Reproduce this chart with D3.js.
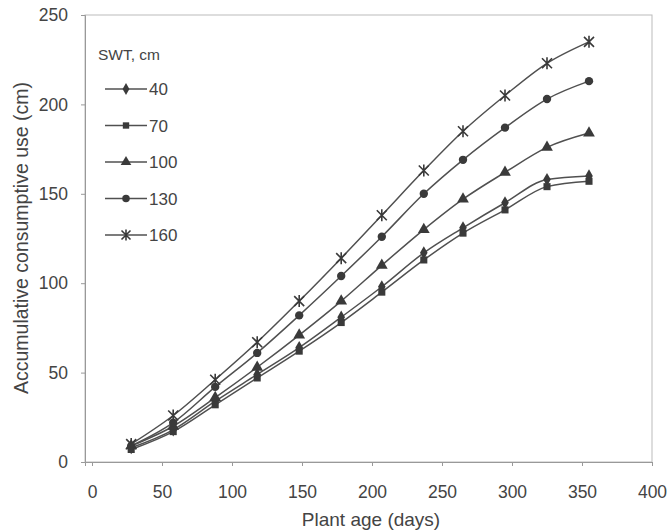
<!DOCTYPE html>
<html>
<head>
<meta charset="utf-8">
<script src="https://cdn.jsdelivr.net/npm/d3@7"></script>
<style>
  body { margin: 0; background: #fff; }
  text { font-family: "Liberation Sans", Arial, sans-serif; fill: #444; }
</style>
</head>
<body>
<div id="chart"></div>
<script>
// Plant age (days) at each measurement
const days = [28, 58, 88, 118, 148, 178, 207, 237, 265, 295, 325, 355];

// Accumulative consumptive use (cm) for each SWT
const swt40  = [8, 18, 34, 49, 64, 81, 98, 117, 131, 145, 158, 160];
const swt70  = [7, 17, 32, 47, 62, 78, 95, 113, 128, 141, 154, 157];
const swt100 = [9, 20, 36, 53, 71, 90, 110, 130, 147, 162, 176, 184];
const swt130 = [9, 22, 42, 61, 82, 104, 126, 150, 169, 187, 203, 213];
const swt160 = [10, 26, 46, 67, 90, 114, 138, 163, 185, 205, 223, 235];

const seriesNames = ["40", "70", "100", "130", "160"];
const seriesValues = [swt40, swt70, swt100, swt130, swt160];
const markers = ["diamond", "square", "triangle", "circle", "star"];

const xTicks = [0, 50, 100, 150, 200, 250, 300, 350, 400];
const yTicks = [0, 50, 100, 150, 200, 250];

const width = 672, height = 532;
const plotLeft = 85, plotRight = 652, plotTop = 15, plotBottom = 462;

const svg = d3.select("#chart").append("svg")
    .attr("width", width)
    .attr("height", height);

const x = d3.scaleLinear().domain([-5, 400]).range([plotLeft, plotRight]);
const y = d3.scaleLinear().domain([0, 250]).range([plotBottom, plotTop]);

// plot frame (top and right edges light)
svg.append("rect")
    .attr("x", plotLeft).attr("y", plotTop)
    .attr("width", plotRight - plotLeft).attr("height", plotBottom - plotTop)
    .attr("fill", "none")
    .attr("stroke", "#bbb")
    .attr("stroke-width", 1);

// axes
const xAxis = svg.append("g")
    .attr("transform", `translate(0,${plotBottom})`)
    .call(d3.axisBottom(x).tickValues(xTicks).tickSize(4).tickPadding(20));
const yAxis = svg.append("g")
    .attr("transform", `translate(${plotLeft},0)`)
    .call(d3.axisLeft(y).tickValues(yTicks).tickSize(4).tickPadding(13));

[xAxis, yAxis].forEach(g => {
    g.select(".domain").attr("stroke", "#999");
    g.selectAll(".tick line").attr("stroke", "#999");
    g.selectAll(".tick text")
        .attr("fill", "#444")
        .style("font-size", "17.5px");
});

// axis titles
svg.append("text")
    .attr("x", 371).attr("y", 526)
    .attr("text-anchor", "middle")
    .style("font-size", "19px")
    .text("Plant age (days)");

svg.append("text")
    .attr("transform", "translate(28,238) rotate(-90)")
    .attr("text-anchor", "middle")
    .style("font-size", "19.5px")
    .text("Accumulative consumptive use (cm)");

const lineColor = "#505050";
const markColor = "#3a3a3a";

function drawMarker(g, type, cx, cy, scale = 1) {
    if (type === "star") {
        const s = 5 * scale;
        g.append("path")
            .attr("d", `M${cx - s},${cy - s}L${cx + s},${cy + s}M${cx - s},${cy + s}L${cx + s},${cy - s}M${cx},${cy - s - 1}L${cx},${cy + s + 1}`)
            .attr("stroke", markColor)
            .attr("stroke-width", 1.6)
            .attr("fill", "none");
        return;
    }
    const symType = {
        diamond: d3.symbolDiamond,
        square: d3.symbolSquare,
        triangle: d3.symbolTriangle,
        circle: d3.symbolCircle
    }[type];
    const size = { diamond: 50, square: 50, triangle: 60, circle: 55 }[type] * scale * scale;
    g.append("path")
        .attr("d", d3.symbol().type(symType).size(size)())
        .attr("transform", `translate(${cx},${cy})`)
        .attr("fill", markColor);
}

const line = d3.line()
    .x((d, i) => x(days[i]))
    .y(d => y(d))
    .curve(d3.curveMonotoneX);

seriesValues.forEach((vals, si) => {
    const g = svg.append("g");
    g.append("path")
        .datum(vals)
        .attr("d", line)
        .attr("fill", "none")
        .attr("stroke", lineColor)
        .attr("stroke-width", 1.5);
    vals.forEach((v, i) => drawMarker(g, markers[si], x(days[i]), y(v)));
});

// legend
const legend = svg.append("g");
legend.append("text")
    .attr("x", 98).attr("y", 60)
    .style("font-size", "15.5px")
    .text("SWT, cm");

seriesNames.forEach((name, i) => {
    const ly = 89 + i * 36.5;
    legend.append("line")
        .attr("x1", 105).attr("x2", 147)
        .attr("y1", ly).attr("y2", ly)
        .attr("stroke", lineColor)
        .attr("stroke-width", 1.5);
    drawMarker(legend, markers[i], 126, ly, 0.9);
    legend.append("text")
        .attr("x", 149).attr("y", ly + 6)
        .style("font-size", "17px")
        .text(name);
});
</script>
</body>
</html>
